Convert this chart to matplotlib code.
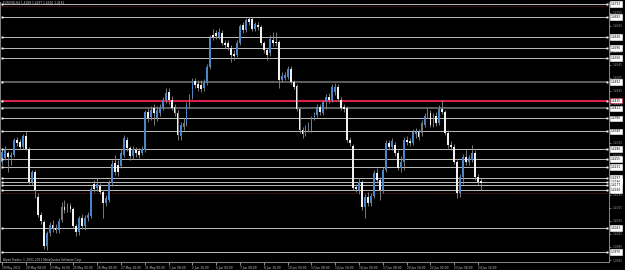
import matplotlib
matplotlib.use("Agg")
import matplotlib.pyplot as plt
import matplotlib.transforms as mtransforms

# EURUSD H4 candles, 19 May 2011 00:00 .. 24 Jun 2011 20:00
symbol = "EURUSD,H4"

opens = [
    1.4246, 1.4258, 1.4274, 1.4262, 1.4268, 1.4314, 1.4308, 1.4292, 1.4326, 1.4286,
    1.4185, 1.4215, 1.4139, 1.4083, 1.4062, 1.3988, 1.4028, 1.4053, 1.4043, 1.4037,
    1.4068, 1.4108, 1.4099, 1.4111, 1.4102, 1.4049, 1.4031, 1.4074, 1.4049, 1.4074,
    1.4080, 1.4179, 1.4166, 1.4172, 1.4154, 1.4120, 1.4129, 1.4182, 1.4243, 1.4237,
    1.4234, 1.4268, 1.4314, 1.4289, 1.4265, 1.4283, 1.4280, 1.4274, 1.4283, 1.4400,
    1.4384, 1.4412, 1.4381, 1.4397, 1.4412, 1.4437, 1.4461, 1.4437, 1.4415, 1.4397,
    1.4326, 1.4354, 1.4363, 1.4421, 1.4446, 1.4495, 1.4486, 1.4483, 1.4474, 1.4489,
    1.4538, 1.4636, 1.4643, 1.4630, 1.4643, 1.4612, 1.4612, 1.4596, 1.4578, 1.4575,
    1.4612, 1.4667, 1.4652, 1.4686, 1.4686, 1.4655, 1.4667, 1.4661, 1.4612, 1.4590,
    1.4581, 1.4621, 1.4615, 1.4615, 1.4498, 1.4504, 1.4507, 1.4532, 1.4492, 1.4480,
    1.4409, 1.4344, 1.4332, 1.4354, 1.4351, 1.4381, 1.4391, 1.4415, 1.4397, 1.4431,
    1.4446, 1.4437, 1.4461, 1.4477, 1.4437, 1.4415, 1.4412, 1.4314, 1.4295, 1.4169,
    1.4160, 1.4185, 1.4108, 1.4139, 1.4120, 1.4142, 1.4212, 1.4191, 1.4160, 1.4222,
    1.4305, 1.4292, 1.4298, 1.4274, 1.4228, 1.4246, 1.4314, 1.4311, 1.4305, 1.4332,
    1.4338, 1.4335, 1.4360, 1.4388, 1.4397, 1.4360, 1.4388, 1.4366, 1.4409, 1.4400,
    1.4335, 1.4298, 1.4292, 1.4246, 1.4151, 1.4200, 1.4262, 1.4246, 1.4252, 1.4274,
    1.4200, 1.4188,
]
highs = [
    1.4289, 1.4295, 1.4280, 1.4277, 1.4320, 1.4323, 1.4317, 1.4332, 1.4341, 1.4292,
    1.4222, 1.4222, 1.4151, 1.4093, 1.4068, 1.4034, 1.4062, 1.4068, 1.4056, 1.4074,
    1.4123, 1.4129, 1.4120, 1.4120, 1.4108, 1.4056, 1.4080, 1.4086, 1.4083, 1.4093,
    1.4172, 1.4191, 1.4197, 1.4182, 1.4160, 1.4145, 1.4191, 1.4252, 1.4268, 1.4252,
    1.4289, 1.4329, 1.4323, 1.4295, 1.4295, 1.4292, 1.4289, 1.4295, 1.4406, 1.4412,
    1.4418, 1.4424, 1.4418, 1.4424, 1.4446, 1.4474, 1.4474, 1.4449, 1.4424, 1.4406,
    1.4369, 1.4381, 1.4431, 1.4455, 1.4504, 1.4504, 1.4498, 1.4498, 1.4501, 1.4547,
    1.4636, 1.4655, 1.4652, 1.4658, 1.4652, 1.4621, 1.4621, 1.4606, 1.4590, 1.4621,
    1.4670, 1.4676, 1.4689, 1.4692, 1.4692, 1.4676, 1.4676, 1.4667, 1.4618, 1.4596,
    1.4636, 1.4646, 1.4646, 1.4621, 1.4523, 1.4523, 1.4541, 1.4541, 1.4498, 1.4486,
    1.4415, 1.4354, 1.4360, 1.4369, 1.4388, 1.4400, 1.4424, 1.4424, 1.4437, 1.4455,
    1.4458, 1.4486, 1.4489, 1.4486, 1.4446, 1.4424, 1.4418, 1.4323, 1.4302, 1.4179,
    1.4197, 1.4191, 1.4148, 1.4154, 1.4151, 1.4222, 1.4228, 1.4200, 1.4231, 1.4314,
    1.4314, 1.4320, 1.4308, 1.4283, 1.4265, 1.4323, 1.4326, 1.4320, 1.4348, 1.4351,
    1.4348, 1.4375, 1.4397, 1.4412, 1.4406, 1.4397, 1.4400, 1.4421, 1.4437, 1.4406,
    1.4344, 1.4311, 1.4302, 1.4252, 1.4209, 1.4271, 1.4283, 1.4268, 1.4298, 1.4283,
    1.4209, 1.4197,
]
lows = [
    1.4237, 1.4252, 1.4215, 1.4237, 1.4262, 1.4295, 1.4286, 1.4286, 1.4283, 1.4179,
    1.4175, 1.4136, 1.4077, 1.4056, 1.3979, 1.3976, 1.4019, 1.4031, 1.4028, 1.4028,
    1.4062, 1.4089, 1.4093, 1.4093, 1.4043, 1.4019, 1.4022, 1.4040, 1.4037, 1.4065,
    1.4074, 1.4154, 1.4157, 1.4148, 1.4074, 1.4111, 1.4123, 1.4172, 1.4206, 1.4203,
    1.4228, 1.4262, 1.4280, 1.4252, 1.4255, 1.4262, 1.4258, 1.4268, 1.4277, 1.4369,
    1.4375, 1.4360, 1.4372, 1.4388, 1.4406, 1.4427, 1.4424, 1.4406, 1.4388, 1.4314,
    1.4314, 1.4344, 1.4357, 1.4412, 1.4440, 1.4474, 1.4464, 1.4461, 1.4464, 1.4483,
    1.4532, 1.4621, 1.4624, 1.4624, 1.4606, 1.4596, 1.4590, 1.4553, 1.4560, 1.4569,
    1.4606, 1.4643, 1.4646, 1.4667, 1.4649, 1.4649, 1.4652, 1.4606, 1.4581, 1.4560,
    1.4572, 1.4603, 1.4603, 1.4474, 1.4492, 1.4498, 1.4501, 1.4486, 1.4470, 1.4403,
    1.4335, 1.4320, 1.4326, 1.4338, 1.4338, 1.4375, 1.4384, 1.4391, 1.4391, 1.4409,
    1.4427, 1.4431, 1.4452, 1.4434, 1.4406, 1.4400, 1.4308, 1.4295, 1.4160, 1.4154,
    1.4148, 1.4099, 1.4074, 1.4111, 1.4111, 1.4136, 1.4182, 1.4129, 1.4151, 1.4215,
    1.4283, 1.4283, 1.4265, 1.4222, 1.4215, 1.4222, 1.4298, 1.4295, 1.4298, 1.4320,
    1.4314, 1.4326, 1.4354, 1.4381, 1.4354, 1.4354, 1.4357, 1.4360, 1.4394, 1.4329,
    1.4289, 1.4283, 1.4240, 1.4136, 1.4139, 1.4179, 1.4237, 1.4237, 1.4246, 1.4191,
    1.4175, 1.4160,
]
closes = [
    1.4277, 1.4283, 1.4262, 1.4268, 1.4314, 1.4305, 1.4292, 1.4326, 1.4286, 1.4185,
    1.4215, 1.4160, 1.4083, 1.4065, 1.3988, 1.4028, 1.4053, 1.4043, 1.4037, 1.4065,
    1.4108, 1.4099, 1.4111, 1.4102, 1.4049, 1.4031, 1.4074, 1.4049, 1.4074, 1.4083,
    1.4163, 1.4163, 1.4179, 1.4154, 1.4120, 1.4136, 1.4182, 1.4240, 1.4215, 1.4215,
    1.4274, 1.4320, 1.4289, 1.4265, 1.4286, 1.4274, 1.4268, 1.4286, 1.4400, 1.4381,
    1.4406, 1.4397, 1.4406, 1.4412, 1.4437, 1.4458, 1.4437, 1.4412, 1.4397, 1.4329,
    1.4360, 1.4366, 1.4421, 1.4446, 1.4495, 1.4483, 1.4474, 1.4470, 1.4489, 1.4538,
    1.4627, 1.4630, 1.4633, 1.4646, 1.4612, 1.4606, 1.4600, 1.4575, 1.4572, 1.4612,
    1.4664, 1.4652, 1.4682, 1.4676, 1.4655, 1.4670, 1.4661, 1.4612, 1.4590, 1.4575,
    1.4624, 1.4612, 1.4612, 1.4498, 1.4510, 1.4513, 1.4532, 1.4492, 1.4477, 1.4409,
    1.4344, 1.4332, 1.4354, 1.4360, 1.4381, 1.4391, 1.4415, 1.4400, 1.4431, 1.4446,
    1.4437, 1.4477, 1.4477, 1.4440, 1.4412, 1.4409, 1.4314, 1.4305, 1.4166, 1.4163,
    1.4185, 1.4108, 1.4139, 1.4120, 1.4142, 1.4212, 1.4191, 1.4160, 1.4222, 1.4305,
    1.4292, 1.4311, 1.4274, 1.4228, 1.4246, 1.4314, 1.4308, 1.4305, 1.4338, 1.4338,
    1.4323, 1.4366, 1.4388, 1.4400, 1.4360, 1.4388, 1.4366, 1.4409, 1.4400, 1.4335,
    1.4298, 1.4292, 1.4246, 1.4151, 1.4200, 1.4262, 1.4246, 1.4258, 1.4274, 1.4200,
    1.4185, 1.4182,
]

# one time label every 8 bars, starting at the first bar
time_labels = [
    "19 May 2011", "20 May 08:00", "23 May 16:00", "25 May 00:00", "26 May 08:00",
    "27 May 16:00", "31 May 00:00", "1 Jun 08:00", "2 Jun 16:00", "6 Jun 00:00",
    "7 Jun 08:00", "8 Jun 16:00", "10 Jun 00:00", "13 Jun 08:00", "14 Jun 16:00",
    "16 Jun 00:00", "17 Jun 08:00", "20 Jun 16:00", "22 Jun 00:00", "23 Jun 08:00",
    "24 Jun 16:00",
]
label_step = 8

price_ticks = [
    1.3945, 1.3985, 1.4025, 1.4065, 1.4105, 1.4145, 1.4185, 1.4225, 1.4265, 1.4305,
    1.4345, 1.4385, 1.4425, 1.4465, 1.4505, 1.4545, 1.4585, 1.4625, 1.4665, 1.4705,
]

# horizontal lines drawn on the chart
light_levels = [1.4732, 1.4692, 1.4630, 1.4596, 1.4566, 1.4380, 1.4340, 1.4286,
                1.4255, 1.4231, 1.4197, 1.4186, 1.4177, 1.4160, 1.4043, 1.3970]
dark_levels = [1.4492, 1.4411]
red_levels = [1.4435]
dotted_red_levels = [1.4726, 1.4152]

BG = "black"
BULL = "#4a86c8"
BEAR = "#f0f0f0"
WICK = "#8c8c8c"
AXIS = "#9a9a9a"
FS = 2.1

fig = plt.figure(figsize=(6.25, 2.7), dpi=100, facecolor=BG)
ax = fig.add_axes([0.0, 8 / 270, 609 / 625, 260 / 270], facecolor=BG)

n = len(closes)
xs = list(range(n))
body_lo = [min(o, c) for o, c in zip(opens, closes)]
body_h = [max(abs(c - o), 0.00003) for o, c in zip(opens, closes)]
colors = [BULL if c > o else BEAR for o, c in zip(opens, closes)]

ax.vlines(xs, lows, highs, colors=WICK, linewidth=0.6, zorder=2)
ax.bar(xs, body_h, bottom=body_lo, width=0.62, color=colors, linewidth=0, zorder=3)

# horizontal lines
trans = mtransforms.blended_transform_factory(ax.transAxes, ax.transData)
for lv in light_levels:
    ax.axhline(lv, xmin=0.003, xmax=0.997, color="#bdbdbd", lw=0.7, zorder=1)
for lv in dark_levels:
    ax.axhline(lv, xmin=0.003, xmax=0.997, color="#6e6e6e", lw=1.2, zorder=1)
for lv in red_levels:
    ax.axhline(lv, xmin=0.003, xmax=0.997, color="#d8204a", lw=1.5, zorder=1)
for lv in dotted_red_levels:
    ax.axhline(lv, color="#8a1e2a", lw=0.6, ls=(0, (1, 1)), zorder=1)

solid_levels = light_levels + dark_levels + red_levels
for xa in (0.004, 0.996):
    ax.plot([xa] * len(solid_levels), solid_levels, "s", ms=1.4, color="white",
            mec="none", transform=trans, zorder=4, clip_on=False)

ax.set_xlim(-0.67, 204.0)
ax.set_ylim(1.39389, 1.47379)

# price scale on the right; labels sitting under a line's price box stay hidden
ax.yaxis.tick_right()
ax.set_yticks(price_ticks)
ax.set_yticklabels([
    "" if any(abs(p - lv) < 0.0008 for lv in solid_levels) else f"{p:.4f}"
    for p in price_ticks
])
ax.tick_params(axis="y", colors=AXIS, labelsize=FS, length=1.5, width=0.5, pad=0.8)

for lv in solid_levels:
    ec = "#d8204a" if lv in red_levels else "white"
    ax.text(1.003, lv, f"{lv:.4f}", transform=trans, ha="left", va="center",
            fontsize=FS, color="black", zorder=6, clip_on=False,
            bbox=dict(boxstyle="square,pad=0.3", fc="white", ec=ec, lw=0.4))

# time scale
tick_pos = list(range(0, n, label_step))[: len(time_labels)]
ax.set_xticks(tick_pos)
ax.set_xticklabels(time_labels)
for lbl in ax.get_xticklabels():
    lbl.set_horizontalalignment("left")
ax.tick_params(axis="x", colors="#c8c8c8", labelsize=FS, length=2, width=0.5, pad=0.8)

for side in ("left", "bottom", "right"):
    ax.spines[side].set_color(AXIS)
    ax.spines[side].set_linewidth(0.6)
ax.spines["top"].set_visible(False)

title = f"{symbol} {opens[-1]:.4f} {highs[-1]:.4f} {lows[-1]:.4f} {closes[-1]:.4f}"
fig.text(3 / 625, 1 - 3 / 270, title, ha="left", va="center", fontsize=FS, color="#d0d0d0")
fig.text(3 / 625, 10 / 270, "Alpari Trader, \u00a9 2001-2011 MetaQuotes Software Corp.",
         ha="left", va="center", fontsize=FS, color="#c8c8c8")

fig.savefig("out.png", dpi=100, facecolor=BG)
